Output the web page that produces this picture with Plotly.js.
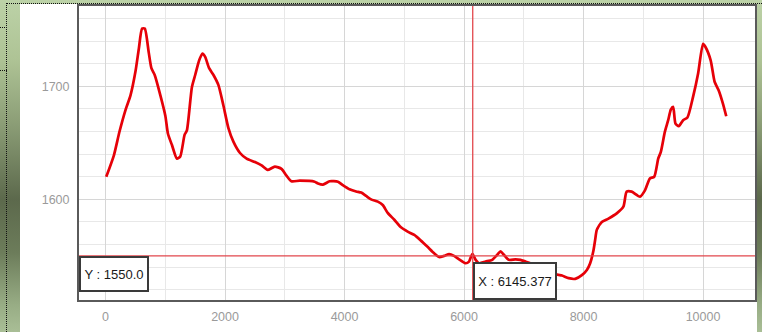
<!DOCTYPE html>
<html>
<head>
<meta charset="utf-8">
<script src="https://cdn.plot.ly/plotly-3.0.1.min.js"></script>
<style>
  html, body { margin:0; padding:0; }
  body {
    width:762px; height:332px; overflow:hidden; position:relative;
    background: linear-gradient(to bottom, #bcd2a7 0%, #aec395 18%, #8a9c75 38%, #5c694c 60%, #6c7c5a 76%, #98ad85 92%, #a9be96 100%);
  }
  #white { position:absolute; left:20px; top:4px; width:737px; height:328px; background:#ffffff; }
  #chart { position:absolute; left:20px; top:4px; width:737px; height:328px; }
  .dv { position:absolute; left:6px; top:3px; width:0; height:329px; border-left:1px dotted #111; }
  .dh { position:absolute; height:0; border-top:1px dotted #111; }
</style>
</head>
<body>
<div id="white"></div>
<div class="dv"></div>
<div class="dh" style="left:6px; top:3px; width:756px;"></div>
<div class="dh" style="left:0px; top:27px; width:7px;"></div>
<div class="dh" style="left:0px; top:70px; width:7px;"></div>
<div id="chart"></div>
<script>
// Profile data
const distance = [11,139,233,333,417,500,556,611,656,722,767,822,917,1000,1044,1111,1194,1250,1322,1361,1444,1500,1567,1622,1667,1733,1806,1889,1972,2056,2139,2250,2361,2500,2611,2711,2833,2944,3028,3111,3250,3500,3556,3639,3750,3889,3972,4083,4194,4278,4361,4444,4556,4639,4722,4833,4944,5056,5167,5278,5389,5500,5583,5667,5750,5833,5917,6028,6083,6139,6194,6250,6361,6472,6556,6611,6667,6750,6861,6944,7028,7111,7250,7444,7500,7528,7639,7750,7861,7972,8056,8111,8167,8194,8222,8306,8417,8556,8667,8722,8806,8944,9028,9111,9183,9250,9294,9361,9417,9461,9500,9539,9594,9667,9739,9833,9917,10000,10039,10128,10194,10261,10333,10389];
const elevation = [1620,1639,1660,1679,1692,1713,1733,1751,1751,1730,1716,1710,1692,1674,1658,1648,1636,1638,1657,1661,1699,1710,1723,1729,1726,1716,1710,1701,1683,1663,1651,1641,1636,1633,1630,1626,1629,1627,1621,1616,1616.5,1615.6,1614,1613,1616,1615.6,1612.6,1609,1607,1606,1603,1600,1598,1595,1588,1582,1575.3,1571.5,1568.5,1563.5,1558,1552.3,1549,1550,1551.5,1550,1547,1543.5,1545,1551.8,1546.5,1543.5,1545,1546.5,1551,1554,1551,1546.5,1547,1546.5,1545,1543.5,1542.6,1542.6,1540.5,1534,1532.6,1530.3,1529.7,1533,1537.6,1543.5,1555,1564,1573,1580,1583,1587.6,1593.5,1606.8,1606.8,1602.4,1608,1618.5,1620,1636,1642,1659.7,1670,1679.4,1681.8,1667,1664.7,1670,1672.4,1690.6,1711,1737.6,1735,1723,1704,1696.5,1684.7,1673.5];

const xTickVals = [0,2000,4000,6000,8000,10000];
const xTickText = ['0','2000','4000','6000','8000','10000'];
const yTickVals = [1600,1700];
const yTickText = ['1600','1700'];

const cursorX = 6145.377;
const cursorY = 1550.0;

const trace = {
  x: distance, y: elevation, type:'scatter', mode:'lines',
  line:{color:'#e60008', width:2.7, shape:'spline', smoothing:0.6}, hoverinfo:'skip', showlegend:false
};

const layout = {
  width:737, height:328,
  margin:{l:59, r:2, t:2, b:32, pad:0},
  paper_bgcolor:'rgba(0,0,0,0)', plot_bgcolor:'#ffffff',
  font:{family:'Liberation Sans, Arial, sans-serif', size:12.5, color:'#9a9a9a'},
  xaxis:{
    range:[-445,10870], tickvals:xTickVals, ticktext:xTickText,
    showgrid:true, gridcolor:'#d6d6d6', gridwidth:1,
    minor:{dtick:1000, tick0:0, showgrid:true, gridcolor:'#e8e8e8', gridwidth:1},
    zeroline:false, showline:true, mirror:true, linecolor:'#5a5a5a', linewidth:2,
    ticks:'', ticklabelstandoff:4, tickfont:{size:12.5, color:'#9a9a9a'}
  },
  yaxis:{
    range:[1511,1771], tickvals:yTickVals, ticktext:yTickText,
    showgrid:true, gridcolor:'#d6d6d6', gridwidth:1,
    minor:{dtick:20, tick0:1500, showgrid:true, gridcolor:'#e8e8e8', gridwidth:1},
    zeroline:false, showline:true, mirror:true, linecolor:'#5a5a5a', linewidth:2,
    ticks:'', ticklabelstandoff:5, tickfont:{size:12.5, color:'#9a9a9a'}
  },
  shapes:[
    {type:'line', xref:'x', yref:'paper', x0:cursorX, x1:cursorX, y0:0, y1:1, line:{color:'#e2474c', width:1.3}, layer:'above'},
    {type:'line', xref:'paper', yref:'y', x0:0, x1:1, y0:cursorY, y1:cursorY, line:{color:'#e2474c', width:1.3}, layer:'above'}
  ],
  annotations:[
    {xref:'paper', yref:'y', x:0, y:cursorY, xanchor:'left', yanchor:'top',
     text:'Y : ' + cursorY.toFixed(1), showarrow:false,
     bgcolor:'#ffffff', bordercolor:'#3a3a3a', borderwidth:2, borderpad:2,
     width:62, height:28, align:'center',
     font:{family:'Liberation Sans, Arial, sans-serif', size:13, color:'#1a1a1a'}},
    {xref:'x', yref:'paper', x:cursorX, y:0, xanchor:'left', yanchor:'bottom',
     text:'X : ' + cursorX.toFixed(3), showarrow:false,
     bgcolor:'#ffffff', bordercolor:'#3a3a3a', borderwidth:2, borderpad:2,
     width:76, height:30, align:'center',
     font:{family:'Liberation Sans, Arial, sans-serif', size:13, color:'#1a1a1a'}}
  ]
};

Plotly.newPlot('chart', [trace], layout, {displayModeBar:false, staticPlot:true});
</script>
</body>
</html>
